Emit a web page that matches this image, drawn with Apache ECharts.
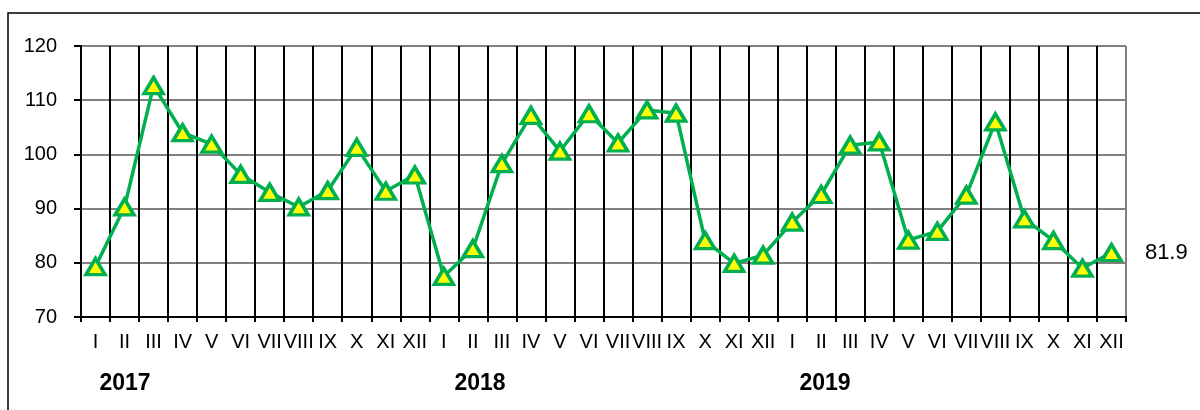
<!DOCTYPE html>
<html>
<head>
<meta charset="utf-8">
<script src="https://cdn.jsdelivr.net/npm/echarts@6/dist/echarts.min.js"></script>
<style>html,body{margin:0;padding:0;background:#fff}#c{width:1200px;height:410px}</style>
</head>
<body>
<div id="c"></div>
<script>
var months = ['I','II','III','IV','V','VI','VII','VIII','IX','X','XI','XII'];
var categories = months.concat(months, months);
var years = ['2017', '2018', '2019'];
var values = [
  79.3, 90.3, 112.7, 104.0, 101.9, 96.3, 93.0, 90.3, 93.3, 101.3, 93.2, 96.2,
  77.5, 82.6, 98.3, 107.2, 100.6, 107.5, 102.1, 108.2, 107.6, 84.1, 79.9, 81.4,
  87.5, 92.6, 101.7, 102.3, 84.2, 85.8, 92.5, 106.0, 88.1, 84.1, 79.0, 81.9
];
var yTicks = [70, 80, 90, 100, 110, 120];

var chart = echarts.init(document.getElementById('c'));
var font = 'Liberation Sans, Arial, sans-serif';
var yearX = [125, 480, 825];
chart.setOption({
  animation: false,
  grid: { left: 81, right: 74, top: 46, bottom: 93, containLabel: false },
  xAxis: {
    type: 'category',
    data: categories,
    boundaryGap: true,
    axisLine: { lineStyle: { color: '#000', width: 2 } },
    axisTick: { show: true, length: 5, interval: 0, lineStyle: { color: '#000', width: 2 } },
    axisLabel: { interval: 0, color: '#000', fontSize: 20, fontFamily: font, margin: 15 },
    splitLine: { show: true, interval: 0, lineStyle: { color: '#000', width: 2 } }
  },
  yAxis: {
    type: 'value',
    min: yTicks[0], max: yTicks[yTicks.length - 1], interval: 10,
    axisLine: { show: true, lineStyle: { color: '#000', width: 2 } },
    axisTick: { show: true, length: 7, lineStyle: { color: '#000', width: 2 } },
    axisLabel: { color: '#000', fontSize: 20, fontFamily: font, margin: 24, padding: [6, 0, 0, 0] },
    splitLine: { show: true, lineStyle: { color: '#808080', width: 2 } }
  },
  graphic: [
    { type: 'rect', shape: { x: 8, y: 13, width: 1400, height: 600 }, style: { fill: 'none', stroke: '#000', lineWidth: 1.5 }, z: 100 },
    { type: 'line', shape: { x1: 1126, y1: 46, x2: 1126, y2: 316 }, style: { stroke: '#808080', lineWidth: 2 }, z: 50 }
  ].concat(years.map(function (y, i) {
    return { type: 'text', x: yearX[i], y: 384, style: { text: y, font: 'bold 23px ' + font, fill: '#000', textAlign: 'center', textVerticalAlign: 'middle' }, z: 100 };
  })),
  series: [{
    type: 'line',
    data: values,
    symbol: 'triangle',
    symbolSize: [19, 16],
    lineStyle: { color: '#00B050', width: 3.5 },
    itemStyle: { color: '#FFFF00', borderColor: '#00B050', borderWidth: 3.5 },
    label: {
      show: true,
      position: 'right',
      distance: 22,
      color: '#000',
      fontSize: 22,
      fontFamily: font,
      formatter: function (p) { return p.dataIndex === values.length - 1 ? String(p.value.toFixed(1)) : ''; }
    },
    z: 10
  }]
});
</script>
</body>
</html>
